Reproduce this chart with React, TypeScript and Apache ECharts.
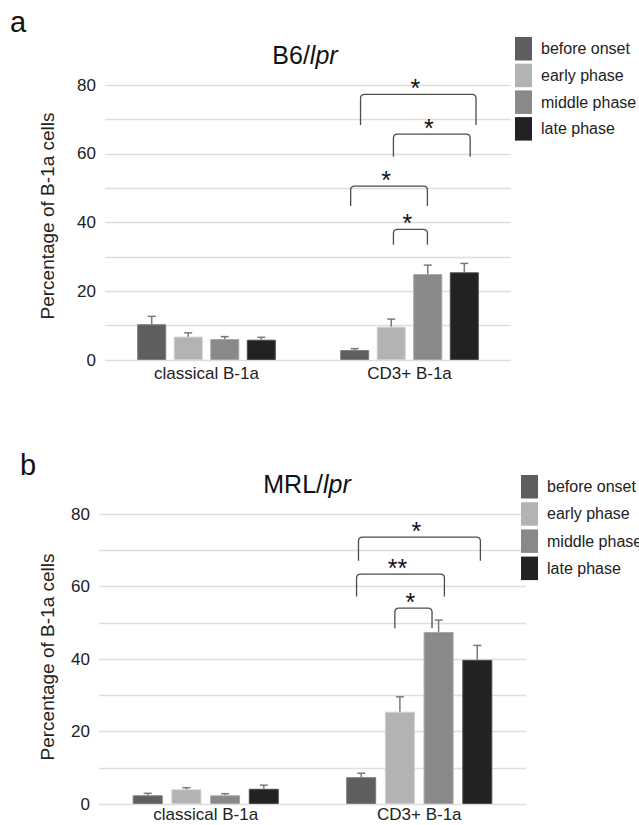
import React, { useEffect, useRef } from 'react';
import * as echarts from 'echarts';

const FONT = '"Liberation Sans", Arial, sans-serif';

// categories and phases
const groups = ['classical B-1a', 'CD3+ B-1a'];
const phases = ['before onset', 'early phase', 'middle phase', 'late phase'];
const phaseColors = ['#5e5e5e', '#b3b3b3', '#898989', '#222222'];
const phaseBorders = ['#7c7c7c', '#cfcfcf', '#a6a6a6', '#4a4a4a'];

// B6/lpr: means [classical, CD3+] and error (SE)
const b6Before = [10.4, 2.9];
const b6Early = [6.8, 9.7];
const b6Middle = [6.1, 25.0];
const b6Late = [5.9, 25.5];
const b6BeforeErr = [2.3, 0.4];
const b6EarlyErr = [1.1, 2.2];
const b6MiddleErr = [0.7, 2.6];
const b6LateErr = [0.7, 2.6];

// MRL/lpr
const mrlBefore = [2.4, 7.4];
const mrlEarly = [4.05, 25.5];
const mrlMiddle = [2.4, 47.5];
const mrlLate = [4.2, 39.8];
const mrlBeforeErr = [0.55, 1.1];
const mrlEarlyErr = [0.45, 4.1];
const mrlMiddleErr = [0.45, 3.3];
const mrlLateErr = [1.0, 4.0];

// y-axis ticks
const yMin = 0;
const yMax = 80;
const yStep = 10;
const yLabelStep = 20;

// significance brackets (bar-index span within CD3+ group, top level, leg end level)
const b6Brackets = [
  { from: 0.16, to: 3.32, top: 77.3, leg: 68.4, mark: '*' },
  { from: 1.06, to: 3.16, top: 65.7, leg: 59.1, mark: '*' },
  { from: -0.11, to: 1.99, top: 50.6, leg: 44.8, mark: '*' },
  { from: 1.06, to: 1.99, top: 38.0, leg: 33.5, mark: '*' },
];
const mrlBrackets = [
  { from: -0.07, to: 3.08, top: 73.7, leg: 67.2, mark: '*' },
  { from: -0.12, to: 2.15, top: 63.5, leg: 57.3, mark: '**' },
  { from: 0.87, to: 1.83, top: 54.1, leg: 48.5, mark: '*' },
];

const b6Means = [b6Before, b6Early, b6Middle, b6Late];
const b6Errs = [b6BeforeErr, b6EarlyErr, b6MiddleErr, b6LateErr];
const mrlMeans = [mrlBefore, mrlEarly, mrlMiddle, mrlLate];
const mrlErrs = [mrlBeforeErr, mrlEarlyErr, mrlMiddleErr, mrlLateErr];

function buildPanel(idx: number, means: number[][], errs: number[][], brackets: any[], barWidth: number, gapPct: number) {
  const step = barWidth * (1 + gapPct / 100);
  const bars = means.map((vals, k) => ({
    type: 'bar',
    name: phases[k],
    xAxisIndex: idx,
    yAxisIndex: idx,
    data: vals,
    barWidth,
    barGap: gapPct + '%',
    itemStyle: { color: phaseColors[k], borderColor: phaseBorders[k], borderWidth: 1 },
    silent: true,
    z: 2,
  }));
  const errData: number[][] = [];
  means.forEach((vals, k) => vals.forEach((v, c) => errData.push([c, k, v, v + errs[k][c]])));
  const errSeries = {
    type: 'custom',
    xAxisIndex: idx,
    yAxisIndex: idx,
    silent: true,
    clip: false,
    z: 3,
    data: errData,
    renderItem: (params: any, api: any) => {
      const cat = api.value(0);
      const k = api.value(1);
      const p0 = api.coord([cat, api.value(2)]);
      const p1 = api.coord([cat, api.value(3)]);
      const x = p0[0] + (k - 1.5) * step;
      const st = { stroke: '#7a7a7a', lineWidth: 1.5 };
      return {
        type: 'group',
        children: [
          { type: 'line', shape: { x1: x, y1: p0[1], x2: x, y2: p1[1] }, style: st },
          { type: 'line', shape: { x1: x - 4, y1: p1[1], x2: x + 4, y2: p1[1] }, style: st },
        ],
      };
    },
  };
  const brSeries = {
    type: 'custom',
    xAxisIndex: idx,
    yAxisIndex: idx,
    silent: true,
    clip: false,
    z: 4,
    data: brackets.map((b) => [1, b.top, b.leg]),
    renderItem: (params: any, api: any) => {
      const b = brackets[params.dataIndex];
      const c = api.coord([1, api.value(1)]);
      const l = api.coord([1, api.value(2)]);
      const xl = c[0] + (b.from - 1.5) * step;
      const xr = c[0] + (b.to - 1.5) * step;
      const yt = c[1];
      const yb = l[1];
      const r = 4;
      const d = `M${xl} ${yb} L${xl} ${yt + r} Q${xl} ${yt} ${xl + r} ${yt} L${xr - r} ${yt} Q${xr} ${yt} ${xr} ${yt + r} L${xr} ${yb}`;
      return {
        type: 'group',
        children: [
          { type: 'path', shape: { pathData: d }, style: { fill: 'none', stroke: '#4d4d4d', lineWidth: 1.3 } },
          {
            type: 'text',
            x: (xl + xr) / 2 - 3,
            y: yt - 6,
            style: { text: b.mark, fontSize: 25, fill: '#111', align: 'center', verticalAlign: 'middle', fontFamily: FONT },
          },
        ],
      };
    },
  };
  return [...bars, errSeries, brSeries];
}

function makeXAxis(idx: number, margin: number) {
  return {
    type: 'category',
    gridIndex: idx,
    data: groups,
    axisLine: { show: false },
    axisTick: { show: false },
    axisLabel: { fontSize: 17, color: '#222', margin, fontFamily: FONT },
  };
}

function makeYAxis(idx: number) {
  return {
    type: 'value',
    gridIndex: idx,
    min: yMin,
    max: yMax,
    interval: yStep,
    axisLine: { show: false },
    axisTick: { show: false },
    axisLabel: {
      fontSize: 17,
      color: '#222',
      margin: 9,
      fontFamily: FONT,
      formatter: (v: number) => (v % yLabelStep === 0 ? String(v) : ''),
    },
    splitLine: { lineStyle: { color: '#dedede', width: 1.4 } },
  };
}

function makeLegend(left: number, top: number, gap: number) {
  return {
    orient: 'vertical',
    left,
    top,
    padding: 0,
    itemWidth: 17,
    itemHeight: 23.5,
    itemGap: gap,
    icon: 'rect',
    selectedMode: false,
    data: phases,
    itemStyle: { borderWidth: 0 },
    textStyle: { fontSize: 16, color: '#222', fontFamily: FONT, padding: [0, 0, 0, 4] },
  };
}

const option: any = {
  animation: false,
  backgroundColor: '#ffffff',
  textStyle: { fontFamily: FONT },
  grid: [
    { left: 105, top: 85, width: 406, height: 275 },
    { left: 99, top: 514.3, width: 427, height: 289.7 },
  ],
  xAxis: [makeXAxis(0, 5), makeXAxis(1, 2)],
  yAxis: [makeYAxis(0), makeYAxis(1)],
  legend: [makeLegend(515, 37, 3.2), makeLegend(521, 475, 3.7)],
  series: [
    ...buildPanel(0, b6Means, b6Errs, b6Brackets, 29, 26),
    ...buildPanel(1, mrlMeans, mrlErrs, mrlBrackets, 30, 29),
  ],
  graphic: [
    { type: 'text', x: 10, y: 21.5, style: { text: 'a', fontSize: 29, fill: '#111', fontFamily: FONT, verticalAlign: 'middle' } },
    { type: 'text', x: 20, y: 465, style: { text: 'b', fontSize: 29, fill: '#111', fontFamily: FONT, verticalAlign: 'middle' } },
    {
      type: 'text',
      x: 305,
      y: 55,
      style: {
        text: '{n|B6/}{i|lpr}',
        align: 'center',
        verticalAlign: 'middle',
        fontSize: 25,
        fill: '#111',
        fontFamily: FONT,
        rich: { n: { fontSize: 25, fontFamily: FONT, fill: '#111' }, i: { fontSize: 25, fontStyle: 'italic', fontFamily: FONT, fill: '#111' } },
      },
    },
    {
      type: 'text',
      x: 307,
      y: 484,
      style: {
        text: '{n|MRL/}{i|lpr}',
        align: 'center',
        verticalAlign: 'middle',
        fontSize: 25,
        fill: '#111',
        fontFamily: FONT,
        rich: { n: { fontSize: 25, fontFamily: FONT, fill: '#111' }, i: { fontSize: 25, fontStyle: 'italic', fontFamily: FONT, fill: '#111' } },
      },
    },
    {
      type: 'text',
      x: 47,
      y: 216,
      rotation: Math.PI / 2,
      style: { text: 'Percentage of B-1a cells', fontSize: 19, fill: '#222', fontFamily: FONT, align: 'center', verticalAlign: 'middle' },
    },
    {
      type: 'text',
      x: 47,
      y: 657,
      rotation: Math.PI / 2,
      style: { text: 'Percentage of B-1a cells', fontSize: 19, fill: '#222', fontFamily: FONT, align: 'center', verticalAlign: 'middle' },
    },
  ],
};

export default function App() {
  const ref = useRef<HTMLDivElement>(null);
  useEffect(() => {
    if (!ref.current) return;
    const chart = echarts.init(ref.current, null, { renderer: 'svg' });
    chart.setOption(option);
    return () => chart.dispose();
  }, []);
  return (
    <div
      ref={ref}
      style={{ position: 'absolute', left: 0, top: 0, width: 639, height: 825, background: '#fff' }}
    />
  );
}
